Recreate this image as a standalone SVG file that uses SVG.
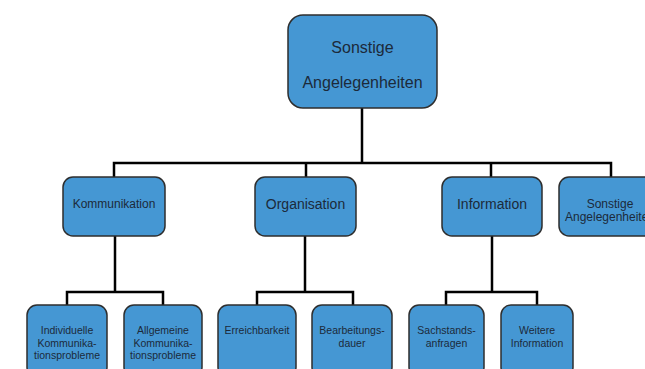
<svg xmlns="http://www.w3.org/2000/svg" width="645" height="369" viewBox="0 0 645 369">
<style>
.box{fill:#4597d3;stroke:#2e2e2e;stroke-width:1.5}
.t{font-family:"Liberation Sans",Arial,sans-serif;fill:#1c2a3a;text-anchor:middle}
.conn{fill:none;stroke:#000;stroke-width:2.5}
</style>
<rect width="645" height="369" fill="#fff"/>
<g id="connectors" class="conn">
<path d="M362,108V163M114,177V163H611V177M306,163V177M491,163V177"/>
<path d="M115,236V292M67,305V292H163V305"/>
<path d="M305,236V292M257,305V292H353V305"/>
<path d="M492,236V292M446,305V292H537V305"/>
</g>
<g id="root"><rect class="box" x="288" y="15" width="149" height="93" rx="15"/>
<text class="t" x="362.5" y="53" font-size="16">Sonstige</text>
<text class="t" x="362.5" y="88" font-size="16">Angelegenheiten</text></g>
<g id="kommunikation"><rect class="box" x="63" y="177" width="102" height="59" rx="10"/>
<text class="t" x="114" y="208" font-size="12">Kommunikation</text></g>
<g id="organisation"><rect class="box" x="255" y="177" width="101" height="59" rx="10"/>
<text class="t" x="305.5" y="209" font-size="14">Organisation</text></g>
<g id="information"><rect class="box" x="442" y="177" width="100" height="59" rx="10"/>
<text class="t" x="492" y="209" font-size="14">Information</text></g>
<g id="sonstige2"><rect class="box" x="559" y="177" width="102" height="59" rx="10"/>
<text class="t" x="610" y="208" font-size="12">Sonstige</text>
<text class="t" x="610" y="221" font-size="12">Angelegenheiten</text></g>
<g id="individuelle"><rect class="box" x="27" y="305" width="80" height="72" rx="10"/>
<text class="t" x="67" y="334" font-size="10.5">Individuelle</text>
<text class="t" x="67" y="347" font-size="10.5">Kommunika-</text>
<text class="t" x="67" y="359" font-size="10.5">tionsprobleme</text></g>
<g id="allgemeine"><rect class="box" x="124" y="305" width="78" height="72" rx="10"/>
<text class="t" x="163" y="334" font-size="10.5">Allgemeine</text>
<text class="t" x="163" y="347" font-size="10.5">Kommunika-</text>
<text class="t" x="163" y="359" font-size="10.5">tionsprobleme</text></g>
<g id="erreichbarkeit"><rect class="box" x="218" y="305" width="78" height="72" rx="10"/>
<text class="t" x="257" y="334" font-size="10.5">Erreichbarkeit</text></g>
<g id="bearbeitungsdauer"><rect class="box" x="312" y="305" width="80" height="72" rx="10"/>
<text class="t" x="352" y="334" font-size="10.5">Bearbeitungs-</text>
<text class="t" x="352" y="347" font-size="10.5">dauer</text></g>
<g id="sachstandsanfragen"><rect class="box" x="409" y="305" width="75" height="72" rx="10"/>
<text class="t" x="446.5" y="334" font-size="10.5">Sachstands-</text>
<text class="t" x="446.5" y="347" font-size="10.5">anfragen</text></g>
<g id="weitere"><rect class="box" x="501" y="305" width="72" height="72" rx="10"/>
<text class="t" x="537" y="334" font-size="10.5">Weitere</text>
<text class="t" x="537" y="347" font-size="10.5">Information</text></g>
</svg>
